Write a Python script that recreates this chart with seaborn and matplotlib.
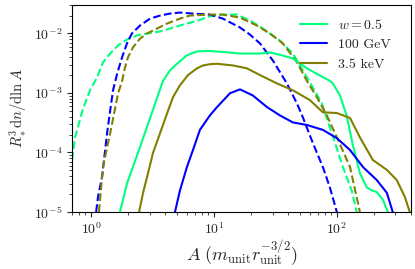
import matplotlib
matplotlib.use("Agg")
import matplotlib.pyplot as plt
import seaborn as sns

# values (A, R^3 dn/dlnA)
w05_dash_A = [0.70, 0.741, 0.861, 0.981, 1.12, 1.25, 1.43, 1.66, 1.96, 2.37, 2.85, 3.64, 4.64, 6.03, 7.41,
              9.27, 11.8, 15.4, 19.6, 23.7, 28.5, 34.4, 43.9, 52.9, 63.8, 75.5, 91.0, 112, 132, 145]
w05_dash_y = [7.5e-5, 1.8e-4, 5.5e-4, 1.11e-3, 1.83e-3, 3.27e-3, 4.6e-3, 6.3e-3, 7.9e-3, 9.3e-3, 1.0e-2, 1.08e-2, 1.26e-2, 1.47e-2, 1.65e-2,
              1.95e-2, 2.08e-2, 2.08e-2, 1.65e-2, 1.31e-2, 1.0e-2, 7.6e-3, 4.6e-3, 2.4e-3, 1.24e-3, 6.7e-4, 2.1e-4, 5.7e-5, 2.3e-5, 1.0e-5]

kev_dash_A = [1.16, 1.25, 1.43, 1.57, 1.66, 1.79, 1.89, 2.0, 2.19, 2.50, 2.85, 3.44, 4.15, 5.29, 6.38, 8.77,
              11.8, 16.3, 22.4, 28.5, 36.4, 47.3, 57.0, 68.8, 82.9, 100, 128, 154]
kev_dash_y = [1.0e-5, 5.7e-5, 2.1e-4, 5.5e-4, 9.9e-4, 1.6e-3, 2.7e-3, 4.0e-3, 5.8e-3, 8.2e-3, 1.0e-2, 1.21e-2, 1.47e-2, 1.78e-2, 2.0e-2, 2.08e-2,
              2.08e-2, 1.85e-2, 1.36e-2, 1.0e-2, 6.8e-3, 3.3e-3, 1.6e-3, 8.5e-4, 4.2e-4, 1.8e-4, 5.7e-5, 1.0e-5]

gev_dash_A = [1.10, 1.14, 1.23, 1.35, 1.43, 1.51, 1.63, 1.79, 1.96, 2.15, 2.50, 3.02, 3.64, 4.39, 5.29, 6.75,
              9.27, 11.8, 16.3, 19.6, 23.7, 30.2, 39.2, 47.3, 52.9, 63.8, 76.9, 87.7, 100]
gev_dash_y = [1.0e-5, 1.8e-5, 3.9e-5, 2.1e-4, 5.0e-4, 1.11e-3, 2.1e-3, 4.0e-3, 6.8e-3, 1.0e-2, 1.36e-2, 1.78e-2, 2.0e-2, 2.16e-2, 2.25e-2, 2.16e-2,
              2.08e-2, 1.78e-2, 1.26e-2, 9.6e-3, 6.8e-3, 3.5e-3, 1.45e-3, 6.7e-4, 3.9e-4, 1.44e-4, 5.7e-5, 2.6e-5, 1.0e-5]

w05_A = [1.72, 1.96, 2.19, 2.50, 2.85, 3.31, 3.85, 4.39, 5.0, 6.03, 7.28, 8.77, 11.8, 16.3, 23.7, 28.5,
         34.4, 43.9, 57.0, 68.8, 87.7, 92.7, 106, 120, 135, 154, 175, 193, 211, 237, 260]
w05_y = [1.0e-5, 3.0e-5, 5.7e-5, 1.23e-4, 2.66e-4, 6.5e-4, 1.6e-3, 2.4e-3, 3.1e-3, 4.3e-3, 5.0e-3, 5.1e-3, 4.9e-3, 4.6e-3, 4.6e-3, 4.8e-3,
         4.4e-3, 3.8e-3, 2.6e-3, 2.1e-3, 1.6e-3, 1.45e-3, 9.1e-4, 4.2e-4, 1.33e-4, 4.5e-5, 2.6e-5, 2.3e-5, 2.17e-5, 1.6e-5, 1.0e-5]

kev_A = [2.46, 2.65, 2.91, 3.19, 3.64, 4.15, 4.64, 5.29, 6.15, 7.28, 8.14, 9.27, 10.6, 14.3, 18.5, 23.7,
         32.5, 43.9, 60.3, 76.9, 100, 128, 154, 196, 255, 307, 357, 392]
kev_y = [1.0e-5, 2.1e-5, 4.5e-5, 9.8e-5, 2.1e-4, 4.5e-4, 8.5e-4, 1.35e-3, 2.0e-3, 2.6e-3, 2.9e-3, 3.05e-3, 3.1e-3, 2.9e-3, 2.6e-3, 2.0e-3,
         1.45e-3, 1.11e-3, 7.6e-4, 4.75e-4, 4.6e-4, 3.8e-4, 1.8e-4, 7.5e-5, 5.1e-5, 3.45e-5, 1.8e-5, 1.0e-5]

gev_A = [4.82, 5.29, 6.03, 6.75, 7.69, 9.27, 10.6, 13.5, 16.3, 20.7, 27.0, 34.4, 43.9, 57.0,
         76.9, 100, 128, 163, 211, 255, 285]
gev_y = [1.0e-5, 2.3e-5, 5.7e-5, 1.1e-4, 2.4e-4, 4.2e-4, 5.8e-4, 9.9e-4, 1.15e-3, 9.1e-4, 5.8e-4, 4.2e-4, 3.2e-4, 2.9e-4,
         2.4e-4, 1.74e-4, 1.1e-4, 5.7e-5, 3.45e-5, 2.1e-5, 1.0e-5]

labels = [r"$w=0.5$", "100 GeV", "3.5 keV"]
colors = ["springgreen", "blue", "olive"]

sns.set_style("ticks")
plt.rcParams["font.family"] = "serif"
plt.rcParams["font.serif"] = ["cmr10"]
plt.rcParams["mathtext.fontset"] = "cm"
plt.rcParams["axes.formatter.use_mathtext"] = True
plt.rcParams["font.size"] = 10

fig = plt.figure(figsize=(4.15, 2.69), dpi=100)
ax = fig.add_axes([0.1735, 0.212, 0.8165, 0.769])

# dashed curves
for A, y, c in [(w05_dash_A, w05_dash_y, colors[0]),
                (gev_dash_A, gev_dash_y, colors[1]),
                (kev_dash_A, kev_dash_y, colors[2])]:
    sns.lineplot(x=A, y=y, color=c, linestyle="--", lw=1.5, ax=ax)

# solid curves
for A, y, c, lab in [(w05_A, w05_y, colors[0], labels[0]),
                     (gev_A, gev_y, colors[1], labels[1]),
                     (kev_A, kev_y, colors[2], labels[2])]:
    sns.lineplot(x=A, y=y, color=c, lw=1.5, label=lab, ax=ax)

ax.set_xscale("log")
ax.set_yscale("log")
ax.set_xlim(0.7, 400)
ax.set_ylim(1e-5, 3e-2)
ax.set_xlabel(r"$A\ (m_\mathrm{unit} r_\mathrm{unit}^{-3/2})$", fontsize=13, labelpad=1)
ax.set_ylabel(r"$R_*^3 \mathrm{d}n/\mathrm{d}\ln A$", fontsize=10.5, labelpad=3)
ax.tick_params(labelsize=10)
for s in ax.spines.values():
    s.set_visible(True)
    s.set_color("black")
ax.legend(loc="upper right", bbox_to_anchor=(0.979, 1.0), frameon=False, fontsize=10)

fig.savefig("out.png", dpi=100)
